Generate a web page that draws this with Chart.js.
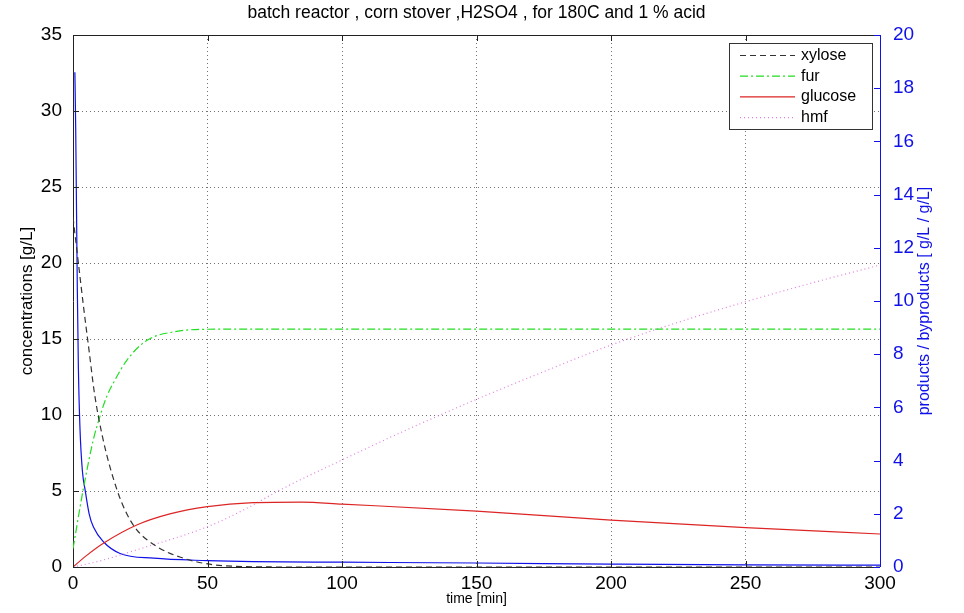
<!DOCTYPE html>
<html>
<head>
<meta charset="utf-8">
<script src="https://cdn.jsdelivr.net/npm/chart.js@4.4.1/dist/chart.umd.min.js"></script>
<style>
  html, body { margin: 0; padding: 0; background: #fff; }
  #wrap { width: 964px; height: 613px; }
</style>
</head>
<body>
<div id="wrap"><canvas id="chart" width="964" height="613"></canvas></div>
<script>
// --- données ---
const xTicks = [0, 50, 100, 150, 200, 250, 300];

const xyloseT = [0, 2, 4, 6, 8, 11.3, 16.3, 20, 23.7, 31.2, 40, 50, 60, 80, 300];
const xyloseC = [23, 20, 17, 14.2, 11.4, 8.3, 5.1, 3.5, 2.45, 1.34, 0.64, 0.2, 0.05, 0, 0];

const furT = [0, 3.8, 7.6, 10, 12.5, 15.6, 20, 27.4, 38.5, 50, 60, 300];
const furC = [1.2, 5.1, 8.4, 9.9, 11.2, 12.3, 13.6, 14.9, 15.5, 15.64, 15.65, 15.65];

const glucoseT = [0, 5, 11.3, 23.7, 36, 50, 67, 85, 100, 150, 200, 250, 300];
const glucoseC = [0, 0.75, 1.56, 2.76, 3.49, 3.97, 4.23, 4.27, 4.14, 3.68, 3.09, 2.59, 2.17];

const hmfT = [0, 10, 25, 50, 65, 77, 100, 125, 150, 175, 200, 225, 250, 275, 300];
const hmfC = [0, 0.4, 1.2, 2.65, 3.9, 5.07, 7.04, 9.1, 11.03, 12.85, 14.6, 16.1, 17.45, 18.7, 19.87];

// courbe bleue (axe de droite)
const blueT = [0.7, 1.0, 1.3, 1.6, 2.0, 2.6, 3.5, 4.5, 6, 7.6, 11.3, 17.5, 30, 50, 67, 100, 150, 200, 250, 300];
const blueC = [18.6, 16.5, 13.5, 10.5, 7.5, 5.2, 3.6, 2.9, 2.0, 1.5, 0.95, 0.51, 0.33, 0.24, 0.2, 0.18, 0.15, 0.11, 0.08, 0.07];

const rightTitle = 'products / byproducts [ g/L / g/L]';

const toXY = (ts, vs) => ts.map((t, i) => ({ x: t, y: vs[i] }));

const FONT = 'Liberation Sans, Arial, sans-serif';
const BLUE = '#1010e8';
const GRID = 'rgba(0,0,0,0.55)';

// Légende encadrée dans le coin haut droit (style MATLAB)
const boxLegend = {
    id: 'boxLegend',
    afterDraw(chart) {
        const { ctx, chartArea } = chart;
        const items = chart.data.datasets.filter(d => d.inLegend);
        const w = 143, h = 86;
        const x0 = chartArea.right - 8 - w, y0 = chartArea.top + 8;
        ctx.save();
        ctx.fillStyle = '#fff';
        ctx.fillRect(x0, y0, w, h);
        ctx.strokeStyle = '#333';
        ctx.lineWidth = 1;
        ctx.strokeRect(x0 + 0.5, y0 + 0.5, w, h);
        ctx.font = '16px ' + FONT;
        ctx.textBaseline = 'middle';
        items.forEach((d, i) => {
            const y = y0 + 12.5 + i * 20.7;
            ctx.beginPath();
            ctx.setLineDash(d.borderDash || []);
            ctx.strokeStyle = d.borderColor;
            ctx.lineWidth = 1.2;
            ctx.moveTo(x0 + 11, y);
            ctx.lineTo(x0 + 66, y);
            ctx.stroke();
            ctx.setLineDash([]);
            ctx.fillStyle = '#000';
            ctx.fillText(d.label, x0 + 72, y);
        });
        ctx.restore();
    }
};

// Cadre, petites graduations vers l'intérieur, titre de l'axe droit (lu de bas en haut)
const frameTicks = {
    id: 'frameTicks',
    afterDatasetsDraw(chart) {
        const { ctx, chartArea: a, scales } = chart;
        const L = 6;
        ctx.save();
        ctx.lineWidth = 1;
        ctx.strokeStyle = '#222';
        ctx.beginPath();
        ctx.moveTo(a.left, a.top + 0.5); ctx.lineTo(a.right, a.top + 0.5);
        ctx.moveTo(a.left, a.bottom + 0.5); ctx.lineTo(a.right, a.bottom + 0.5);
        scales.x.ticks.forEach(t => {
            const px = Math.round(scales.x.getPixelForValue(t.value)) + 0.5;
            ctx.moveTo(px, a.bottom); ctx.lineTo(px, a.bottom - L);
            ctx.moveTo(px, a.top); ctx.lineTo(px, a.top + L);
        });
        scales.y.ticks.forEach(t => {
            const py = Math.round(scales.y.getPixelForValue(t.value)) + 0.5;
            ctx.moveTo(a.left, py); ctx.lineTo(a.left + L, py);
        });
        ctx.stroke();
        ctx.strokeStyle = BLUE;
        ctx.beginPath();
        scales.y2.ticks.forEach(t => {
            const py = Math.round(scales.y2.getPixelForValue(t.value)) + 0.5;
            ctx.moveTo(a.right, py); ctx.lineTo(a.right - L, py);
        });
        ctx.moveTo(a.right + 0.5, a.top); ctx.lineTo(a.right + 0.5, a.bottom);
        ctx.stroke();

        ctx.translate(925, (a.top + a.bottom) / 2);
        ctx.rotate(-Math.PI / 2);
        ctx.fillStyle = BLUE;
        ctx.font = '16px ' + FONT;
        ctx.textAlign = 'center';
        ctx.textBaseline = 'middle';
        ctx.fillText(rightTitle, 0, 0);
        ctx.restore();
    }
};

const common = { pointRadius: 0, fill: false, cubicInterpolationMode: 'monotone', borderWidth: 1.2 };

new Chart(document.getElementById('chart'), {
    type: 'line',
    data: {
        datasets: [
            { ...common, label: 'xylose', inLegend: true, data: toXY(xyloseT, xyloseC), borderColor: '#333333', borderDash: [6, 4], yAxisID: 'y' },
            { ...common, label: 'fur', inLegend: true, data: toXY(furT, furC), borderColor: '#22dd22', borderDash: [8, 3, 2, 3], yAxisID: 'y' },
            { ...common, label: 'glucose', inLegend: true, data: toXY(glucoseT, glucoseC), borderColor: '#dd2525', yAxisID: 'y' },
            { ...common, label: 'hmf', inLegend: true, data: toXY(hmfT, hmfC), borderColor: '#e080e0', borderDash: [1, 3], yAxisID: 'y' },
            { ...common, label: 'byproducts', inLegend: false, data: toXY(blueT, blueC), borderColor: BLUE, yAxisID: 'y2' }
        ]
    },
    options: {
        responsive: false,
        animation: false,
        layout: { padding: { right: 11 } },
        plugins: {
            legend: { display: false },
            tooltip: { enabled: false },
            title: {
                display: true,
                text: 'batch reactor , corn stover ,H2SO4 , for 180C and 1 % acid',
                color: '#000',
                font: { family: FONT, size: 17.5, weight: 'normal' },
                padding: { top: 2.5, bottom: 11.5 }
            }
        },
        scales: {
            x: {
                type: 'linear', min: 0, max: 300,
                afterBuildTicks: s => { s.ticks = xTicks.map(v => ({ value: v })); },
                afterFit: s => { s.height = 46; },
                grid: { color: GRID, drawTicks: false },
                border: { display: false, dash: [1, 3] },
                ticks: { color: '#000', font: { family: FONT, size: 19 }, padding: 5, maxRotation: 0 },
                title: { display: true, text: 'time [min]', color: '#000', font: { family: FONT, size: 14 }, padding: { bottom: 5 } }
            },
            y: {
                position: 'left', min: 0, max: 35,
                ticks: { stepSize: 5, color: '#000', font: { family: FONT, size: 19 }, padding: 11 },
                afterFit: s => { s.width = 73; },
                grid: { color: GRID, drawTicks: false },
                border: { display: true, color: '#222', dash: [1, 3] },
                title: { display: true, text: 'concentrations [g/L]', color: '#000', font: { family: FONT, size: 17 }, padding: { top: 17 } }
            },
            y2: {
                position: 'right', min: 0, max: 20,
                ticks: { stepSize: 2, color: BLUE, font: { family: FONT, size: 19 }, padding: 13 },
                afterFit: s => { s.width = 73; },
                grid: { drawOnChartArea: false, drawTicks: false },
                border: { display: false }
            }
        }
    },
    plugins: [frameTicks, boxLegend]
});
</script>
</body>
</html>
